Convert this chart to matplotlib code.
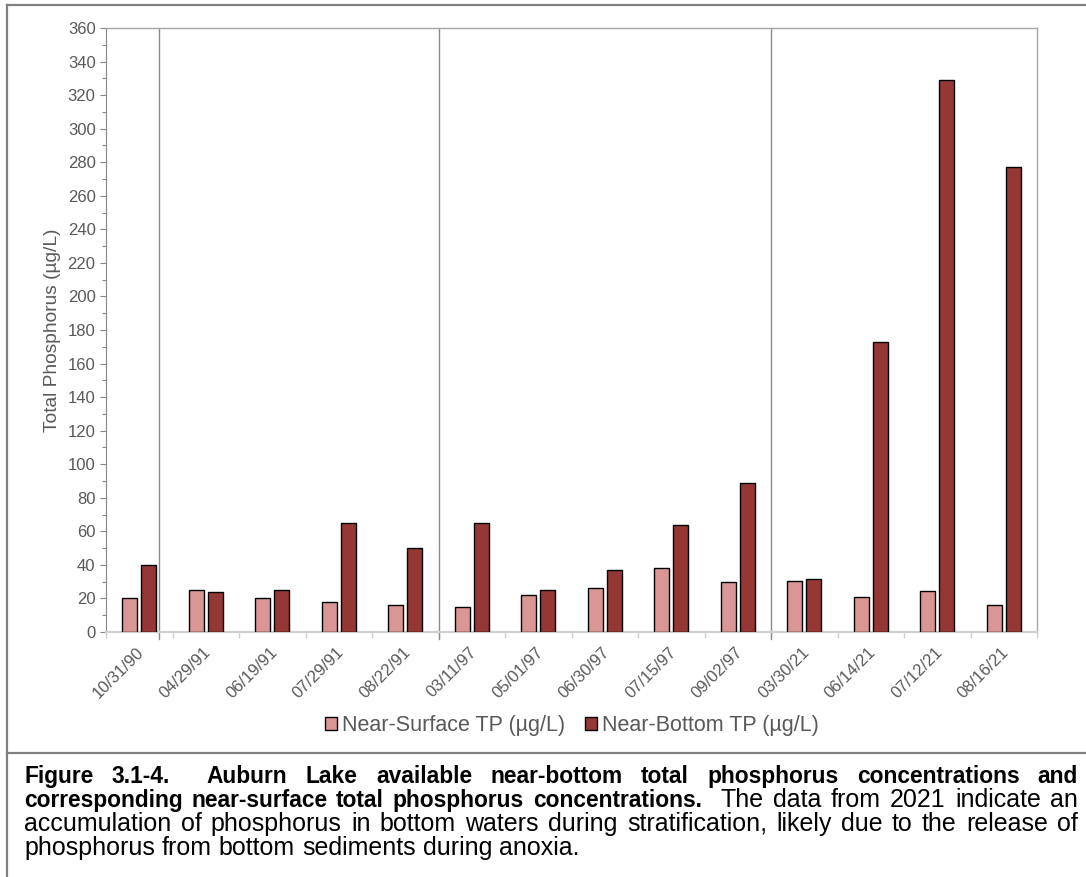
import matplotlib
matplotlib.use("Agg")
import matplotlib.pyplot as plt
import numpy as np
from matplotlib.lines import Line2D
from matplotlib.patches import Patch
from matplotlib.ticker import MultipleLocator
from matplotlib.transforms import ScaledTranslation

plt.rcParams['font.family'] = ['Liberation Sans', 'DejaVu Sans']

dates = ["10/31/90", "04/29/91", "06/19/91", "07/29/91", "08/22/91",
         "03/11/97", "05/01/97", "06/30/97", "07/15/97", "09/02/97",
         "03/30/21", "06/14/21", "07/12/21", "08/16/21"]
surface_tp = [20, 25, 20, 18, 16, 15, 22, 26, 38, 30, 30.5, 21, 24.5, 16]
bottom_tp = [40, 24, 25, 65, 50, 65, 25, 37, 64, 89, 31.5, 173, 329, 277]
divider_pos = [0.3, 4.5, 9.5]

caption_lines = [
    [("Figure 3.1-4.  Auburn Lake available near-bottom total phosphorus concentrations and", "bold")],
    [("corresponding near-surface total phosphorus concentrations.", "bold"),
     ("  The data from 2021 indicate an", "normal")],
    [("accumulation of phosphorus in bottom waters during stratification, likely due to the release of", "normal")],
    [("phosphorus from bottom sediments during anoxia.", "normal")],
]

W, H = 1086, 877
fig = plt.figure(figsize=(W / 100, H / 100), dpi=100)
ax = fig.add_axes([106 / W, 1 - 632 / H, (1037 - 106) / W, (632 - 28) / H])

pink = "#D99694"
maroon = "#953735"
grey_txt = "#595959"

x = np.arange(len(dates))
bw = 0.225
ax.bar(x - 0.145, surface_tp, bw, color=pink, edgecolor="black", linewidth=1.0, zorder=3)
ax.bar(x + 0.145, bottom_tp, bw, color=maroon, edgecolor="black", linewidth=1.0, zorder=3)

for d in divider_pos:
    ax.axvline(d, ymin=-0.012, ymax=1, color="#8C8C8C", lw=1.0, clip_on=False, zorder=2)

ax.set_xlim(-0.5, len(dates) - 0.5)
ax.set_ylim(0, 360)
ax.yaxis.set_major_locator(MultipleLocator(20))
ax.yaxis.set_minor_locator(MultipleLocator(10))
ax.tick_params(axis="y", which="major", length=4.5, width=0.8, color="#868686",
               labelsize=12, labelcolor=grey_txt, pad=3)
ax.tick_params(axis="y", which="minor", length=3, width=0.8, color="#868686")

ax.set_xticks(x)
ax.set_xticklabels(dates, rotation=45, ha="right", va="center", rotation_mode="anchor")
ax.set_xticks(np.arange(len(dates) + 1) - 0.5, minor=True)
ax.tick_params(axis="x", which="major", length=0, labelsize=12, labelcolor=grey_txt, pad=13)
ax.tick_params(axis="x", which="minor", length=4, width=1, color="#D0D0D0")
for lab in ax.get_xticklabels():
    lab.set_transform(lab.get_transform() + ScaledTranslation(0.025, 0, fig.dpi_scale_trans))

ax.spines["left"].set_color("#868686")
ax.spines["bottom"].set_color("#D0D0D0")
ax.spines["bottom"].set_linewidth(1.6)
for s in ["top", "right"]:
    ax.spines[s].set_color("#A6A6A6")
    ax.spines[s].set_linewidth(1.0)

ax.set_ylabel("Total Phosphorus (µg/L)", fontsize=13.8, color=grey_txt, labelpad=5)

handles = [Patch(facecolor=pink, edgecolor="black", lw=1.0),
           Patch(facecolor=maroon, edgecolor="black", lw=1.0)]
fig.legend(handles, ["Near-Surface TP (µg/L)", "Near-Bottom TP (µg/L)"],
           loc="center", bbox_to_anchor=(572 / W, 1 - 726 / H), ncol=2, frameon=False,
           fontsize=15.5, labelcolor=grey_txt, handlelength=0.55, handleheight=0.55,
           handletextpad=0.25, columnspacing=0.9)

# frame lines around figure and caption
frame_kw = dict(color="#808080", lw=1.6, transform=fig.transFigure)
fig.add_artist(Line2D([7 / W, 1], [1 - 5 / H, 1 - 5 / H], **frame_kw))
fig.add_artist(Line2D([7 / W, 7 / W], [0, 1 - 5 / H], **frame_kw))
fig.add_artist(Line2D([7 / W, 1], [1 - 753 / H, 1 - 753 / H], **frame_kw))

# justified caption
cap_size = {"bold": 16.4, "normal": 18}
x_left, x_right = 24, 1078
renderer = fig.canvas.get_renderer()


def text_w(s, weight):
    t = fig.text(0, 0, s, fontsize=cap_size[weight], weight=weight)
    w = t.get_window_extent(renderer).width
    t.remove()
    return w


space_w = {wt: text_w("a a", wt) - text_w("aa", wt) for wt in ["bold", "normal"]}

for i, parts in enumerate(caption_lines):
    base_y = 783 + 24 * i
    tokens = []  # word, weight, spaces before it
    for seg, wt in parts:
        pending = 0
        for word in seg.split(" "):
            if word == "":
                pending += 1
                continue
            tokens.append([word, wt, pending if tokens else 0])
            pending = 1
    widths = [text_w(t[0], t[1]) for t in tokens]
    n_sp = sum(t[2] for t in tokens)
    natural = sum(widths) + sum(t[2] * space_w[t[1]] for t in tokens)
    justify = i < len(caption_lines) - 1
    extra = (x_right - x_left - natural) / n_sp if (justify and n_sp) else 0
    cx = x_left
    for (word, wt, nsp), w in zip(tokens, widths):
        cx += nsp * (space_w[wt] + extra)
        fig.text(cx / W, 1 - base_y / H, word, fontsize=cap_size[wt], weight=wt,
                 color="black", ha="left", va="baseline")
        cx += w

fig.savefig("out.png", dpi=100)
